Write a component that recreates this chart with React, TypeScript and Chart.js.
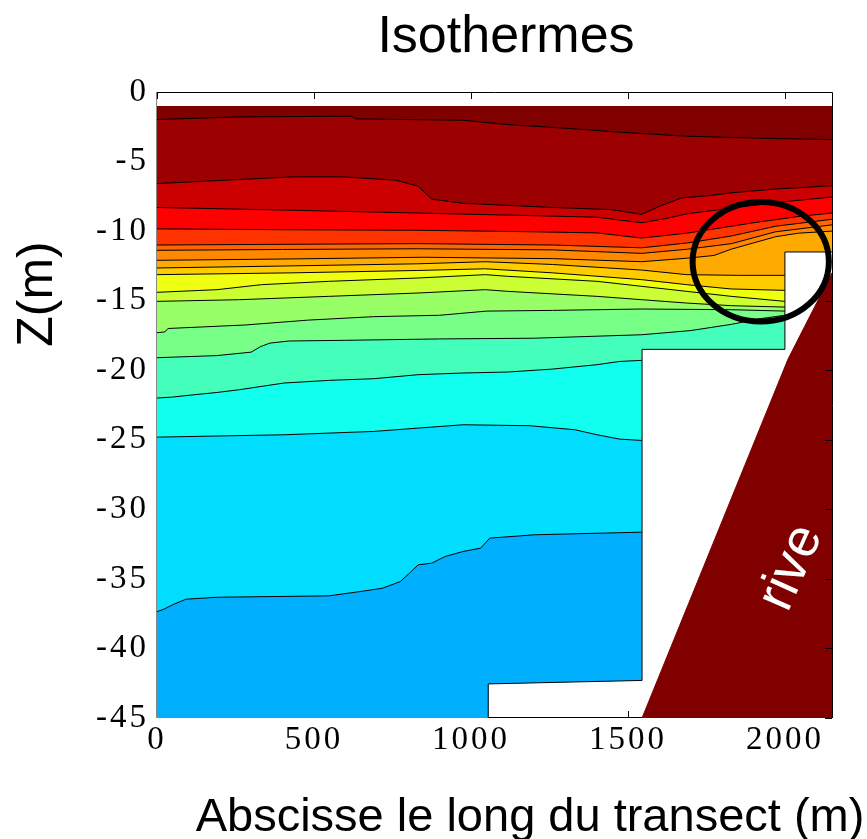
import React, { useEffect, useRef } from "react";
import { Chart, registerables } from "chart.js";

Chart.register(...registerables);

type Pt = [number, number];

// ---------- axes ----------
const X_MIN = 0;
const X_MAX = 2150;
const Z_MIN = -45;
const Z_MAX = 0;
const X_TICKS = [0, 500, 1000, 1500, 2000];
const Z_TICKS = [0, -5, -10, -15, -20, -25, -30, -35, -40, -45];

const TITLE = "Isothermes";
const X_LABEL = "Abscisse le long du transect (m)";
const Y_LABEL = "Z(m)";
const RIVE_LABEL = "rive";

// ---------- isotherms (x in m, z in m) ----------
const surface: Pt[] = [[0, -1], [2150, -1]];
const iso1: Pt[] = [[0, -1.98], [263, -1.79], [619, -1.74], [633, -1.93], [974, -2.03], [1117, -2.34], [1331, -2.65], [1473, -2.89], [1687, -3.18], [1971, -3.35], [2150, -3.42]];
const iso2: Pt[] = [[0, -6.58], [263, -6.29], [433, -6.1], [590, -6.1], [761, -6.34], [832, -6.77], [875, -7.7], [975, -8.0], [1259, -8.3], [1445, -8.45], [1530, -8.75], [1544, -8.8], [1601, -8.21], [1672, -7.61], [1758, -7.45], [1829, -7.25], [1971, -6.97], [2071, -6.85], [2150, -6.73]];
const iso3: Pt[] = [[0, -8.3], [430, -8.5], [830, -8.7], [1120, -8.85], [1400, -9.0], [1544, -9.4], [1620, -9.1], [1690, -8.75], [1830, -8.35], [1970, -7.95], [2150, -7.55]];
const iso4: Pt[] = [[0, -9.84], [400, -9.9], [832, -9.94], [1200, -10.05], [1402, -10.13], [1544, -10.5], [1687, -10.15], [1830, -9.65], [1900, -9.4], [2043, -8.95], [2150, -8.7]];
const iso5: Pt[] = [[0, -11.0], [400, -10.95], [830, -10.9], [1260, -11.0], [1544, -11.2], [1690, -10.85], [1830, -10.35], [1970, -9.65], [2150, -9.15]];
const iso6: Pt[] = [[0, -11.38], [400, -11.32], [830, -11.27], [1260, -11.35], [1544, -11.6], [1690, -11.3], [1830, -10.9], [1970, -10.05], [2150, -9.55]];
const iso7: Pt[] = [[0, -12.1], [430, -12.0], [850, -11.88], [1260, -11.98], [1544, -12.2], [1687, -11.95], [1774, -11.75], [1829, -11.3], [1900, -10.85], [1971, -10.4], [2043, -10.15], [2150, -10.0]];
const iso8: Pt[] = [[0, -12.65], [430, -12.5], [830, -12.35], [1046, -12.2], [1260, -12.4], [1544, -12.8], [1687, -13.13], [1850, -13.18], [2000, -13.18]];
const iso9: Pt[] = [[0, -13.13], [430, -13.0], [830, -12.83], [1046, -12.71], [1260, -13.0], [1544, -13.49], [1687, -13.85], [1829, -14.16], [2000, -14.26]];
const iso10: Pt[] = [[0, -14.4], [191, -14.21], [333, -13.85], [547, -13.61], [832, -13.37], [1046, -13.13], [1117, -13.25], [1402, -13.61], [1544, -13.97], [1687, -14.33], [1829, -14.69], [2000, -15.05]];
const iso11: Pt[] = [[0, -15.05], [263, -14.93], [547, -14.69], [832, -14.45], [1046, -14.21], [1117, -14.33], [1402, -14.69], [1544, -14.93], [1687, -15.17], [1829, -15.36], [2000, -15.46]];
const iso12: Pt[] = [[0, -17.3], [25, -17.25], [35, -17.0], [280, -16.75], [480, -16.4], [690, -16.15], [900, -16.05], [1050, -15.75], [1260, -15.7], [1544, -15.6], [1830, -15.65], [2000, -15.75]];
const iso13: Pt[] = [[0, -19.1], [190, -18.95], [300, -18.7], [330, -18.3], [360, -18.05], [420, -17.9], [600, -17.85], [900, -17.75], [1200, -17.7], [1544, -17.45], [1700, -17.15], [1830, -16.7], [1920, -16.3], [2000, -16.05]];
const iso14: Pt[] = [[0, -22.0], [49, -21.93], [120, -21.76], [191, -21.6], [263, -21.4], [334, -21.16], [405, -20.92], [547, -20.73], [690, -20.61], [832, -20.32], [975, -20.2], [1117, -20.13], [1259, -19.92], [1402, -19.6], [1473, -19.37], [1545, -19.29]];
const iso15: Pt[] = [[0, -24.81], [405, -24.64], [690, -24.4], [832, -24.16], [975, -23.92], [1188, -23.99], [1331, -24.28], [1402, -24.64], [1473, -24.95], [1545, -25.05]];
const iso16: Pt[] = [[0, -37.35], [20, -37.2], [49, -36.87], [92, -36.46], [191, -36.32], [547, -36.22], [647, -35.91], [718, -35.67], [775, -35.19], [804, -34.59], [832, -33.99], [875, -33.87], [918, -33.39], [975, -33.03], [1031, -32.79], [1060, -32.07], [1202, -31.83], [1545, -31.64]];

const ISOTHERMS: Pt[][] = [surface, iso1, iso2, iso3, iso4, iso5, iso6, iso7, iso8, iso9, iso10, iso11, iso12, iso13, iso14, iso15, iso16];
const BAND_COLORS = ["#800000", "#9c0000", "#cc0000", "#ff0000", "#ff3300", "#ff6600", "#ff8800", "#ffaa00", "#ffcc00", "#eeff11", "#ccff33", "#99ff66", "#77ff88", "#44ffbb", "#11ffee", "#00ddff", "#00b0ff"];

// ---------- domain geometry ----------
const NOTCH_TOP = -11.5;
const BOX_X: [number, number] = [1055, 1545];
const voidOutline: Pt[] = [[1055, -45], [1055, -42.55], [1545, -42.3], [1545, -18.5], [2000, -18.5], [2000, -11.5], [2150, -11.5]];
const riveOutline: Pt[] = [[1545, -45], [2010, -19.2], [2150, -13]];
const boxBottom: Pt[] = [[1055, -45], [1545, -45]];
const RIVE_TEXT_POS: Pt = [2021, -34.2];
const CIRCLE = { x: 1923, z: -12.2, rx: 217, rz: 4.3 };

const SANS = '"Liberation Sans", Arial, Helvetica, sans-serif';
const SERIF = '"Liberation Serif", "Times New Roman", serif';

const toXY = (pts: Pt[]) => pts.map(([x, y]) => ({ x, y }));

const framePlugin = {
  id: "frame",
  beforeDraw(chart: any) {
    chart.ctx.letterSpacing = "3px";
  },
  beforeDatasetsDraw(chart: any) {
    chart.ctx.letterSpacing = "0px";
  },
  afterDatasetsDraw(chart: any) {
    const { ctx, chartArea: a, scales } = chart;
    const xs = scales.x;
    const ys = scales.y;
    ctx.save();
    ctx.letterSpacing = "0px";
    // frame
    ctx.strokeStyle = "#000";
    ctx.lineWidth = 1;
    ctx.beginPath();
    ctx.moveTo(a.left - 0.5, a.top + 0.5);
    ctx.lineTo(a.right + 0.5, a.top + 0.5);
    ctx.lineTo(a.right + 0.5, a.bottom);
    ctx.stroke();
    ctx.strokeStyle = "#888";
    ctx.beginPath();
    ctx.moveTo(a.left - 0.5, a.top + 0.5);
    ctx.lineTo(a.left - 0.5, a.bottom);
    ctx.stroke();
    // ticks
    ctx.strokeStyle = "#000";
    ctx.beginPath();
    X_TICKS.forEach((v) => {
      const px = Math.round(xs.getPixelForValue(v)) + 0.5;
      ctx.moveTo(px, a.top);
      ctx.lineTo(px, a.top + 7);
      if (v > BOX_X[0] && v < BOX_X[1]) {
        ctx.moveTo(px, a.bottom);
        ctx.lineTo(px, a.bottom - 7);
      }
    });
    Z_TICKS.forEach((v) => {
      if (v > NOTCH_TOP) return;
      const py = Math.round(ys.getPixelForValue(v)) + 0.5;
      ctx.moveTo(a.right, py);
      ctx.lineTo(a.right - 7, py);
    });
    ctx.stroke();
    // circle
    ctx.lineWidth = 6;
    ctx.beginPath();
    const cx = xs.getPixelForValue(CIRCLE.x);
    const cy = ys.getPixelForValue(CIRCLE.z);
    const rx = Math.abs(xs.getPixelForValue(CIRCLE.x + CIRCLE.rx) - cx);
    const ry = Math.abs(ys.getPixelForValue(CIRCLE.z + CIRCLE.rz) - cy);
    ctx.ellipse(cx, cy, rx, ry, 0, 0, Math.PI * 2);
    ctx.stroke();
    // rive label
    ctx.translate(xs.getPixelForValue(RIVE_TEXT_POS[0]), ys.getPixelForValue(RIVE_TEXT_POS[1]));
    ctx.rotate((-66 * Math.PI) / 180);
    ctx.fillStyle = "#fff";
    ctx.font = `54px ${SANS}`;
    ctx.textAlign = "center";
    ctx.textBaseline = "middle";
    ctx.fillText(RIVE_LABEL, 0, 0);
    ctx.restore();
  },
  afterDraw(chart: any) {
    const ctx = chart.ctx;
    ctx.save();
    ctx.letterSpacing = "0px";
    ctx.fillStyle = "#000";
    ctx.textAlign = "center";
    ctx.textBaseline = "alphabetic";
    ctx.font = `52px ${SANS}`;
    ctx.fillText(TITLE, 506, 52);
    ctx.font = `47px ${SANS}`;
    ctx.fillText(X_LABEL, 530, 831);
    ctx.translate(52, 294);
    ctx.rotate(-Math.PI / 2);
    ctx.font = `50px ${SANS}`;
    ctx.fillText(Y_LABEL, 0, 0);
    ctx.restore();
  },
};

export default function App() {
  const ref = useRef<HTMLCanvasElement>(null);
  useEffect(() => {
    document.body.style.margin = "0";
    const canvas = ref.current!;
    const datasets: any[] = [];
    ISOTHERMS.forEach((pts, i) => {
      datasets.push({
        data: toXY(pts),
        fill: "start",
        backgroundColor: BAND_COLORS[i],
        borderColor: i === 0 ? "rgba(0,0,0,0)" : "#000",
        borderWidth: i === 0 ? 0 : 1,
        pointRadius: 0,
        pointHoverRadius: 0,
        tension: 0,
      });
    });
    datasets.push({
      data: toXY(voidOutline),
      fill: "start",
      backgroundColor: "#ffffff",
      borderColor: "#000",
      borderWidth: 1,
      pointRadius: 0,
      tension: 0,
    });
    datasets.push({
      data: toXY(riveOutline),
      fill: "start",
      backgroundColor: "#800000",
      borderColor: "#800000",
      borderWidth: 1,
      pointRadius: 0,
      tension: 0,
    });
    datasets.push({
      data: toXY(boxBottom),
      fill: false,
      borderColor: "#000",
      borderWidth: 2,
      pointRadius: 0,
      tension: 0,
    });
    const n = datasets.length;
    datasets.forEach((d, i) => (d.order = n - i));

    const chart = new Chart(canvas, {
      type: "line",
      data: { datasets },
      options: {
        responsive: false,
        animation: false,
        devicePixelRatio: 1,
        events: [],
        layout: { padding: { top: 92, right: 35, left: 0, bottom: 0 } },
        plugins: { legend: { display: false }, tooltip: { enabled: false }, title: { display: false } },
        scales: {
          x: {
            type: "linear",
            min: X_MIN,
            max: X_MAX,
            grid: { display: false, drawTicks: false },
            border: { display: false },
            afterBuildTicks: (s: any) => {
              s.ticks = X_TICKS.map((value) => ({ value }));
            },
            afterFit: (s: any) => {
              s.height = 121;
            },
            ticks: {
              color: "#000",
              font: { family: SERIF, size: 33 },
              padding: 3,
              maxRotation: 0,
              autoSkip: false,
              includeBounds: false,
              callback: (v: any) => String(v),
            },
          },
          y: {
            type: "linear",
            min: Z_MIN,
            max: Z_MAX,
            grid: { display: false, drawTicks: false },
            border: { display: false },
            afterBuildTicks: (s: any) => {
              s.ticks = Z_TICKS.map((value) => ({ value }));
            },
            afterFit: (s: any) => {
              s.width = 157;
            },
            ticks: {
              color: "#000",
              font: { family: SERIF, size: 33 },
              padding: 8,
              autoSkip: false,
              callback: (v: any) => String(v),
            },
          },
        },
      },
      plugins: [framePlugin as any],
    });
    return () => chart.destroy();
  }, []);
  return (
    <div style={{ position: "absolute", left: 0, top: 0, width: 867, height: 839, background: "#fff" }}>
      <canvas ref={ref} width={867} height={839} style={{ width: 867, height: 839, display: "block" }} />
    </div>
  );
}
